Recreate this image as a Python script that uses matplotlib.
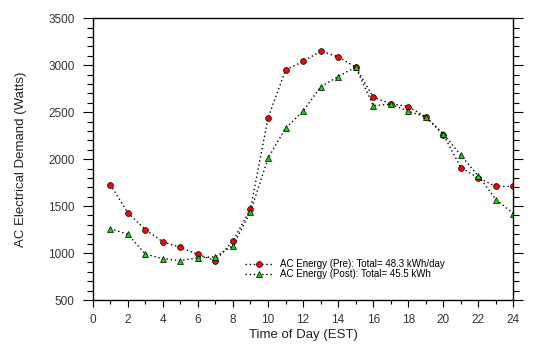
import matplotlib.pyplot as plt
import numpy as np
from matplotlib.ticker import MultipleLocator

hours = np.arange(1, 25)
pre = [1730, 1430, 1250, 1120, 1060, 985, 920, 1130, 1470, 2440, 2950, 3040,
       3150, 3090, 2980, 2660, 2590, 2560, 2450, 2260, 1910, 1800, 1710, 1710]
post = [1260, 1200, 990, 940, 920, 950, 960, 1080, 1440, 2010, 2330, 2510,
        2770, 2880, 2980, 2570, 2585, 2510, 2450, 2270, 2040, 1820, 1570, 1420]
pre_label = 'AC Energy (Pre): Total= 48.3 kWh/day'
post_label = 'AC Energy (Post): Total= 45.5 kWh'

plt.rcParams['font.family'] = ['Liberation Sans', 'DejaVu Sans']

fig = plt.figure(figsize=(5.34, 3.52), dpi=100)
ax = fig.add_axes([0.1736, 0.1477, 0.788, 0.8003])

ax.plot(hours, pre, linestyle=(0, (1, 2)), color='black', lw=1.0, marker='o',
        markersize=4.2, markerfacecolor='#ff0000', markeredgecolor='black',
        markeredgewidth=0.5, label=pre_label)
ax.plot(hours, post, linestyle=(0, (1, 2)), color='black', lw=1.0, marker='^',
        markersize=4.8, markerfacecolor='#00dd00', markeredgecolor='black',
        markeredgewidth=0.5, label=post_label)

ax.set_xlim(0, 24)
ax.set_ylim(500, 3500)
ax.xaxis.set_major_locator(MultipleLocator(2))
ax.xaxis.set_minor_locator(MultipleLocator(1))
ax.yaxis.set_major_locator(MultipleLocator(500))
ax.yaxis.set_minor_locator(MultipleLocator(100))

ax.tick_params(axis='both', which='both', direction='out', labelsize=8.5,
               width=0.8, top=False, colors='black', labelcolor='#333333')
ax.tick_params(axis='y', which='major', length=7, right=True, pad=6)
ax.tick_params(axis='y', which='minor', length=4, right=True)
ax.tick_params(axis='x', which='major', length=5, pad=5)
ax.tick_params(axis='x', which='minor', length=3)

for s in ax.spines.values():
    s.set_linewidth(1.0)

ax.set_xlabel('Time of Day (EST)', fontsize=9.5, labelpad=2, color='#222222')
ax.set_ylabel('AC Electrical Demand (Watts)', fontsize=9.5, labelpad=15,
              color='#222222')

ax.legend(loc='lower left', bbox_to_anchor=(0.345, 0.05), frameon=False,
          fontsize=7, handlelength=3, labelspacing=0.0, borderpad=0.2,
          handletextpad=0.6)

fig.savefig('out.png', dpi=100)
plt.close(fig)
